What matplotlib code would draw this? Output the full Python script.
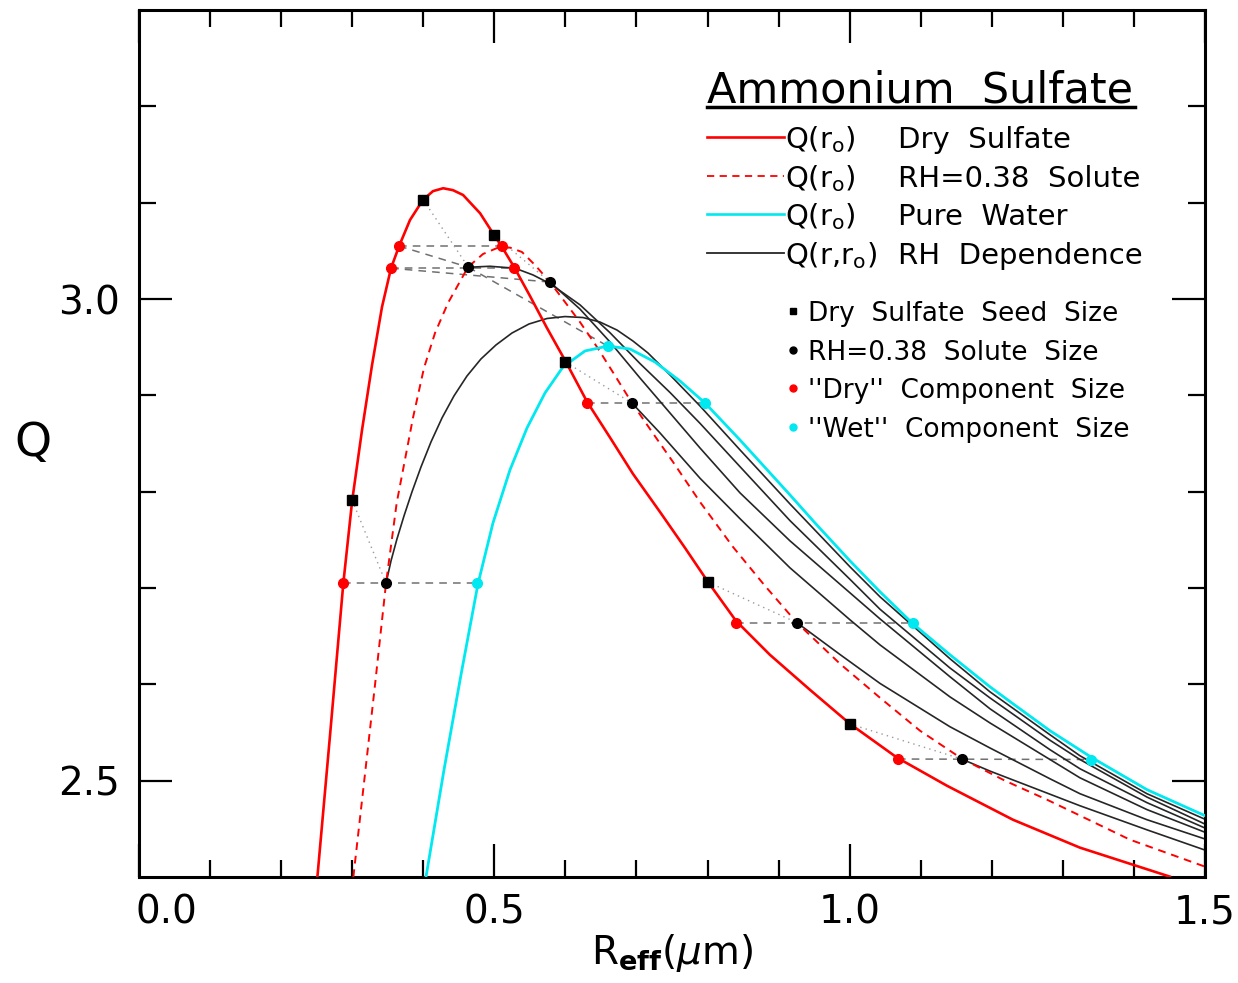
import matplotlib
matplotlib.use("Agg")
import matplotlib.pyplot as plt
import numpy as np
from matplotlib.transforms import ScaledTranslation

# Q(r_o) for dry sulfate (red solid)
dry_r = [0.251, 0.269, 0.2875, 0.300, 0.3138, 0.3279, 0.3419, 0.3546, 0.366, 0.3813, 0.3996,
         0.4137, 0.428, 0.4418, 0.456, 0.480, 0.500, 0.510, 0.528, 0.5502, 0.5741, 0.6008,
         0.6304, 0.663, 0.6951, 0.7331, 0.7683, 0.8006, 0.840, 0.8878, 0.9441, 1.0005, 1.0666,
         1.1369, 1.2298, 1.3241, 1.4507]
dry_q = [2.400, 2.549, 2.705, 2.791, 2.864, 2.9315, 2.9917, 3.032, 3.055, 3.082, 3.103,
         3.112, 3.115, 3.113, 3.108, 3.089, 3.066, 3.055, 3.033, 3.0031, 2.9699, 2.9346,
         2.8935, 2.856, 2.8185, 2.779, 2.7417, 2.7064, 2.666, 2.6307, 2.5944, 2.559, 2.524,
         2.4948, 2.4595, 2.4305, 2.4004]

# Q(r_o) for RH=0.38 solute (red dashed)
sol_r = [0.3016, 0.3166, 0.3321, 0.3476, 0.3626, 0.3855, 0.4010, 0.4165, 0.4348, 0.4630, 0.4840,
         0.5037, 0.5220, 0.5389, 0.5572, 0.5783, 0.5994, 0.6205, 0.6445, 0.6684, 0.6937, 0.7219,
         0.7514, 0.7894, 0.8358, 0.8808, 0.9259, 0.9864, 1.0427, 1.0990, 1.1580, 1.2186, 1.2777,
         1.3944, 1.500]
sol_q = [2.400, 2.4979, 2.5996, 2.705, 2.7884, 2.8766, 2.9284, 2.9647, 2.9959, 3.0332, 3.0467,
         3.0529, 3.0534, 3.0488, 3.0353, 3.0176, 2.9969, 2.9761, 2.9502, 2.9222, 2.8921, 2.862,
         2.8309, 2.7894, 2.7427, 2.7023, 2.6639, 2.6214, 2.5861, 2.5519, 2.5228, 2.500, 2.4803,
         2.4388, 2.4108]

# Q(r_o) for pure water (cyan)
wat_r = [0.4038, 0.4292, 0.4531, 0.4770, 0.4981, 0.5220, 0.5460, 0.5713, 0.5966, 0.6276, 0.6600,
         0.6909, 0.7261, 0.7613, 0.7965, 0.8457, 0.9160, 0.9512, 1.0005, 1.0427, 1.0891, 1.1412,
         1.1974, 1.2298, 1.2819, 1.3410, 1.4184, 1.500]
wat_q = [2.400, 2.5114, 2.610, 2.7044, 2.7676, 2.8226, 2.8662, 2.9025, 2.9295, 2.9461, 2.9512,
         2.9481, 2.9346, 2.9149, 2.8921, 2.8537, 2.7967, 2.7676, 2.7282, 2.6961, 2.6629, 2.6307,
         2.5975, 2.5799, 2.5519, 2.5239, 2.4907, 2.4637]

# Q(r, r_o) RH dependence (black), one curve per seed
rh1_r = [0.3476, 0.3546, 0.3630, 0.3729, 0.3841, 0.3968, 0.4109, 0.4264, 0.4432, 0.4615, 0.4812,
         0.5023, 0.5248, 0.5488, 0.5741, 0.5994, 0.6247, 0.6487, 0.6726, 0.6951, 0.7162, 0.7472,
         0.7894, 0.8457, 0.9160, 1.0005, 1.0427, 1.1412, 1.1974, 1.2819, 1.3241, 1.4184, 1.500]
rh1_q = [2.705, 2.7282, 2.751, 2.7749, 2.7998, 2.8257, 2.8517, 2.8766, 2.8994, 2.9201, 2.9378,
         2.9523, 2.9647, 2.9741, 2.9798, 2.9818, 2.9808, 2.9761, 2.9678, 2.9564, 2.944, 2.9212,
         2.889, 2.8434, 2.7873, 2.722, 2.6909, 2.6266, 2.5923, 2.5477, 2.5259, 2.4865, 2.460]
rh2_r = [0.4634, 0.4939, 0.5291, 0.5544, 0.5783, 0.6205, 0.6628, 0.7050, 0.7472, 0.7894, 0.8457,
         0.9160, 1.0005, 1.0427, 1.1412, 1.1974, 1.2819, 1.3241, 1.4184, 1.500]
rh2_q = [3.033, 3.034, 3.032, 3.025, 3.016, 2.994, 2.965, 2.933, 2.903, 2.871, 2.826,
         2.770, 2.709, 2.678, 2.617, 2.586, 2.542, 2.522, 2.483, 2.455]
rh3_r = [0.5783, 0.6205, 0.6628, 0.7050, 0.7472, 0.7894, 0.8457, 0.9160, 1.0005, 1.0427, 1.1412,
         1.1974, 1.2819, 1.3241, 1.4184, 1.500]
rh3_q = [3.0176, 2.9896, 2.9554, 2.918, 2.8817, 2.8454, 2.7988, 2.749, 2.695, 2.668, 2.6079,
         2.5747, 2.5322, 2.5124, 2.4772, 2.4509]
rh4_r = [0.6937, 0.7331, 0.7894, 0.8457, 0.9160, 1.0005, 1.0427, 1.1412, 1.1974, 1.2819, 1.3241,
         1.4184, 1.500]
rh4_q = [2.892, 2.861, 2.814, 2.772, 2.721, 2.667, 2.641, 2.587, 2.560, 2.522, 2.503,
         2.470, 2.4465]
rh5_r = [0.9259, 0.9864, 1.0427, 1.1412, 1.1974, 1.2819, 1.3241, 1.4184, 1.500]
rh5_q = [2.664, 2.631, 2.601, 2.556, 2.534, 2.502, 2.4865, 2.4595, 2.4395]
rh6_r = [1.1576, 1.1974, 1.2537, 1.3241, 1.4184, 1.500]
rh6_q = [2.5225, 2.510, 2.494, 2.474, 2.449, 2.428]

# marker points
seed_r = [0.3, 0.4, 0.5, 0.6, 0.8, 1.0]
seed_q = [2.791, 3.103, 3.066, 2.9346, 2.7064, 2.559]
solute_r = [0.3476, 0.4634, 0.5783, 0.6937, 0.9259, 1.1576]
solute_q = [2.705, 3.033, 3.0176, 2.892, 2.664, 2.5225]
drycomp_r = [0.2875, 0.3546, 0.366, 0.5104, 0.5281, 0.630, 0.840, 1.068]
drycomp_q = [2.705, 3.032, 3.055, 3.055, 3.032, 2.892, 2.664, 2.5225]
wetcomp_r = [0.4752, 0.660, 0.797, 1.089, 1.340]
wetcomp_q = [2.705, 2.951, 2.892, 2.664, 2.522]

# dashed connectors between marker sets: (set, index, set, index)
dashed_links = [("dry", 0, "wet", 0), ("dry", 1, "dry", 4), ("dry", 2, "dry", 3),
                ("dry", 2, "sol", 1), ("dry", 1, "sol", 2), ("sol", 1, "wet", 1),
                ("dry", 5, "wet", 2), ("dry", 6, "wet", 3), ("dry", 7, "wet", 4)]

RED = "#ff0000"
CYAN = "#00e8f0"
BLK = "#262626"

fig = plt.figure(figsize=(12.38, 9.83), dpi=100)
ax = fig.add_axes([0.1123, 0.1078, 0.8610, 0.8820])

ax.plot(dry_r, dry_q, color=RED, lw=1.9, zorder=3)
ax.plot(sol_r, sol_q, color=RED, lw=1.4, dashes=(4, 3), zorder=3)
ax.plot(wat_r, wat_q, color=CYAN, lw=2.0, zorder=3)
for xs, ys in [(rh1_r, rh1_q), (rh2_r, rh2_q), (rh3_r, rh3_q),
               (rh4_r, rh4_q), (rh5_r, rh5_q), (rh6_r, rh6_q)]:
    ax.plot(xs, ys, color=BLK, lw=1.2, zorder=2)

pts = {"dry": (drycomp_r, drycomp_q), "sol": (solute_r, solute_q), "wet": (wetcomp_r, wetcomp_q)}
for a, i, b, j in dashed_links:
    ax.plot([pts[a][0][i], pts[b][0][j]], [pts[a][1][i], pts[b][1][j]],
            color="#707070", lw=1.1, dashes=(5, 4), zorder=1)
for i in range(len(seed_r)):
    ax.plot([seed_r[i], solute_r[i]], [seed_q[i], solute_q[i]],
            color="#9a9a9a", lw=1.0, dashes=(1, 3), zorder=1)

ax.plot(seed_r, seed_q, "s", color="black", ms=6.5, zorder=5, ls="none")
ax.plot(solute_r, solute_q, "o", color="black", ms=7, zorder=5, ls="none")
ax.plot(drycomp_r, drycomp_q, "o", color=RED, ms=7, zorder=5, ls="none")
ax.plot(wetcomp_r, wetcomp_q, "o", color=CYAN, ms=7, zorder=5, ls="none")

ax.set_xlim(0, 1.5)
ax.set_ylim(2.4, 3.3)
ax.set_xticks([0.0, 0.5, 1.0, 1.5])
ax.set_xticklabels(["0.0", "0.5", "1.0", "1.5"])
ax.set_xticks(np.arange(0.1, 1.45, 0.1), minor=True)
ax.set_yticks([2.5, 3.0])
ax.set_yticklabels(["2.5", "3.0"])
ax.set_yticks([2.6, 2.7, 2.8, 2.9, 3.1, 3.2], minor=True)
ax.tick_params(which="both", direction="in", top=True, right=True, width=1.6, colors="black")
ax.tick_params(which="major", length=24, labelsize=28)
ax.tick_params(which="minor", length=12)
ax.tick_params(axis="x", which="major", pad=12)
ax.tick_params(axis="y", which="major", pad=14)
for s in ax.spines.values():
    s.set_linewidth(2.2)

# shift the 0.0 label off the corner, as in the original
lab0 = ax.xaxis.get_major_ticks()[0].label1
lab0.set_transform(lab0.get_transform() + ScaledTranslation(0.27, 0, fig.dpi_scale_trans))

ax.set_xlabel(r"R$_{\mathbf{eff}}$($\mu$m)", fontsize=28, labelpad=0)
ax.set_ylabel("Q", fontsize=34, rotation=0, labelpad=18, va="center")

# legend drawn by hand in figure coordinates
fig.text(0.5711, 0.9084, "Ammonium  Sulfate", fontsize=31, va="center", ha="left")
fig.add_artist(plt.Line2D([0.5711, 0.9168], [0.8912, 0.8912], color="black", lw=2.5,
                          transform=fig.transFigure))

entries = [("Q(r$_\\mathrm{o}$)", "Dry  Sulfate", dict(color=RED, lw=1.9)),
           ("Q(r$_\\mathrm{o}$)", "RH=0.38  Solute", dict(color=RED, lw=1.3, dashes=(4, 3))),
           ("Q(r$_\\mathrm{o}$)", "Pure  Water", dict(color=CYAN, lw=1.9)),
           ("Q(r,r$_\\mathrm{o}$)", "RH  Dependence", dict(color=BLK, lw=1.3))]
ys = [0.8606, 0.8210, 0.7823, 0.7426]
for (sym, desc, style), y in zip(entries, ys):
    fig.add_artist(plt.Line2D([0.5711, 0.6330], [y, y], transform=fig.transFigure, **style))
    fig.text(0.6341, y - 0.011, sym, fontsize=21, va="baseline", ha="left")
    fig.text(0.7254, y - 0.011, desc, fontsize=21, va="baseline", ha="left")

mentries = [("s", "black", "Dry  Sulfate  Seed  Size"),
            ("o", "black", "RH=0.38  Solute  Size"),
            ("o", RED, "''Dry''  Component  Size"),
            ("o", CYAN, "''Wet''  Component  Size")]
mys = [0.6836, 0.6439, 0.6053, 0.5656]
for (mk, col, desc), y in zip(mentries, mys):
    fig.add_artist(plt.Line2D([0.6405], [y], marker=mk, color=col, ms=5, ls="none",
                              transform=fig.transFigure))
    fig.text(0.6527, y - 0.010, desc, fontsize=19, va="baseline", ha="left")

fig.savefig("out.png", dpi=100)
